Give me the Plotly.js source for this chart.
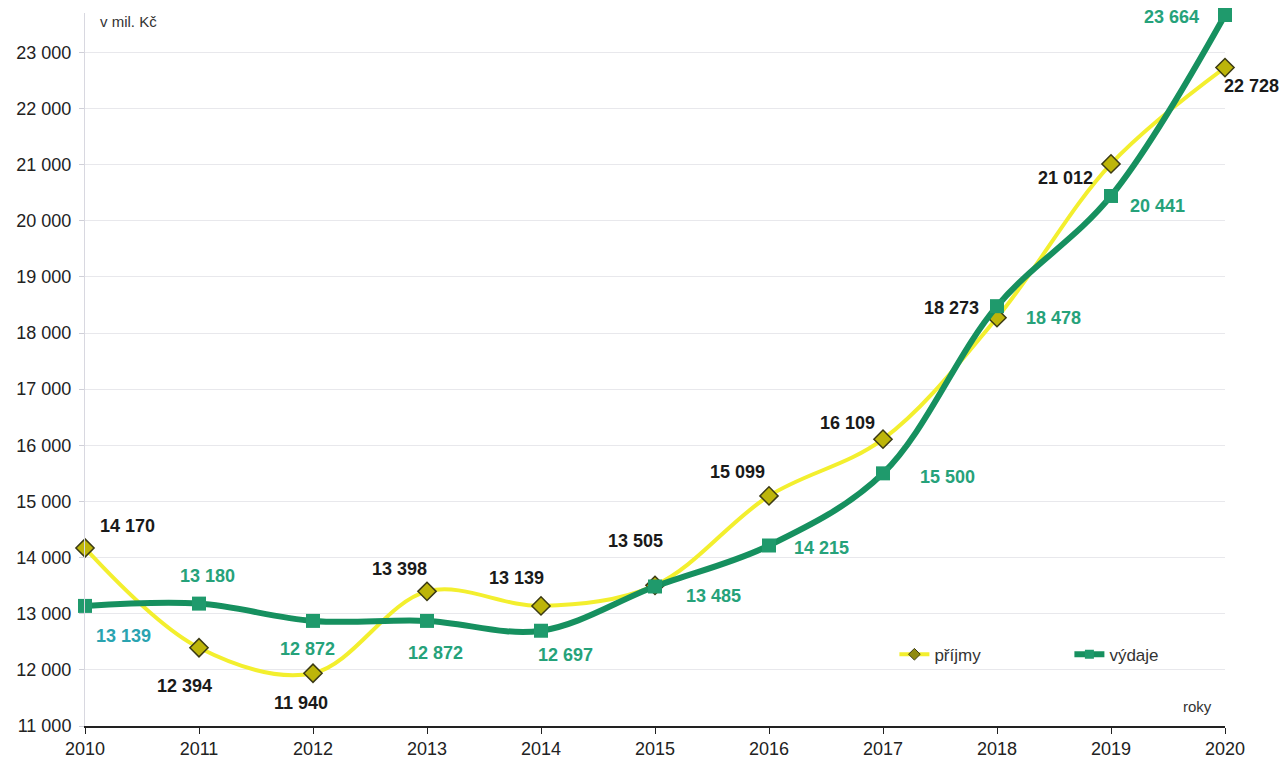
<!DOCTYPE html>
<html>
<head>
<meta charset="utf-8">
<script src="https://cdn.plot.ly/plotly-3.0.1.min.js"></script>
<style>html,body{margin:0;padding:0;background:#fff;}#chart{width:1281px;height:762px;}</style>
</head>
<body>
<div id="chart"></div>
<script>
var years = [2010, 2011, 2012, 2013, 2014, 2015, 2016, 2017, 2018, 2019, 2020];
var prijmy = [14170, 12394, 11940, 13398, 13139, 13505, 15099, 16109, 18273, 21012, 22728];
var vydaje = [13139, 13180, 12872, 12872, 12697, 13485, 14215, 15500, 18478, 20441, 23664];
var yTicks = [11000, 12000, 13000, 14000, 15000, 16000, 17000, 18000, 19000, 20000, 21000, 22000, 23000];

// label offsets (px) relative to each point
var prOff = [[42,-22],[-15,38],[-12,30],[-28,-22],[-25,-28],[-20,-44],[-32,-24],[-36,-16],[-46,-10],[-46,14],[26,18]];
var vyOff = [[38,30],[8,-28],[-6,28],[8,32],[24,24],[58,10],[52,2],[64,4],[56,12],[46,10],[-54,2]];

var FONT = 'Liberation Sans, Arial, sans-serif';
function fmt(v){ return String(v).replace(/\B(?=(\d{3})+(?!\d))/g, ' '); }

var ann = [];
years.forEach(function(yr, i){
  ann.push({x: yr, y: prijmy[i], text: fmt(prijmy[i]), showarrow: false, xshift: prOff[i][0], yshift: -prOff[i][1],
    font: {family: FONT, size: 18, color: '#1a1a1a', weight: 'bold'}});
  ann.push({x: yr, y: vydaje[i], text: fmt(vydaje[i]), showarrow: false, xshift: vyOff[i][0], yshift: -vyOff[i][1],
    font: {family: FONT, size: 18, color: i === 0 ? '#2aa3b0' : '#26a27a', weight: 'bold'}});
});
ann.push({xref: 'paper', yref: 'paper', x: 0.011, y: 1.0, xanchor: 'left', yanchor: 'middle', yshift: -8, text: 'v mil. Kč', showarrow: false,
  font: {family: FONT, size: 15, color: '#333'}});
ann.push({xref: 'paper', yref: 'paper', x: 0.99, y: 0.0, xanchor: 'right', yanchor: 'middle', yshift: 20, text: 'roky', showarrow: false,
  font: {family: FONT, size: 15, color: '#333'}});

var traces = [
  {x: years, y: prijmy, name: 'příjmy', type: 'scatter', mode: 'lines+markers', cliponaxis: false, showlegend: false,
   line: {color: '#f3ef2e', width: 4, shape: 'spline', smoothing: 1},
   marker: {symbol: 'diamond', size: 14, color: '#bdb50a', line: {color: '#3b3a14', width: 1.5}}},
  {x: years, y: vydaje, name: 'výdaje', type: 'scatter', mode: 'lines+markers', cliponaxis: false, showlegend: false,
   line: {color: '#16905f', width: 6, shape: 'spline', smoothing: 1},
   marker: {symbol: 'square', size: 14, color: '#1f9a6c'}},
  {x: [null], y: [null], name: 'příjmy', type: 'scatter', mode: 'lines+markers',
   line: {color: '#f3ef2e', width: 4}, marker: {symbol: 'diamond', size: 9, color: '#8f8a10', line: {color: '#3b3a14', width: 1}}},
  {x: [null], y: [null], name: 'výdaje', type: 'scatter', mode: 'lines+markers',
   line: {color: '#16905f', width: 6}, marker: {symbol: 'square', size: 9, color: '#1f9a6c'}}
];

var layout = {
  width: 1281, height: 762,
  margin: {l: 85, r: 56, t: 13, b: 36},
  paper_bgcolor: '#fff', plot_bgcolor: '#fff',
  separators: ', ',
  showlegend: true,
  legend: {orientation: 'h', x: 0.71, y: 0.1, xanchor: 'left', yanchor: 'middle', entrywidth: 130,
    font: {family: FONT, size: 17, color: '#333'}, bgcolor: 'rgba(0,0,0,0)'},
  xaxis: {range: [2010, 2020], tickvals: years, ticktext: years.map(String), showgrid: false, zeroline: false,
    showline: true, linecolor: '#222', linewidth: 1.5, ticks: 'outside', ticklen: 6, tickcolor: '#222',
    tickfont: {family: FONT, size: 18, color: '#222'}},
  yaxis: {range: [11000, 23700], tickvals: yTicks, ticktext: yTicks.map(fmt), showgrid: true, gridcolor: '#e8e8ec',
    zeroline: false, showline: true, linecolor: '#d8d8e0', ticks: 'outside', ticklen: 5, tickcolor: '#d0d0d8',
    ticklabelstandoff: 4,
    tickfont: {family: FONT, size: 18, color: '#222'}},
  annotations: ann
};

Plotly.newPlot('chart', traces, layout, {displayModeBar: false, staticPlot: true});
</script>
</body>
</html>
